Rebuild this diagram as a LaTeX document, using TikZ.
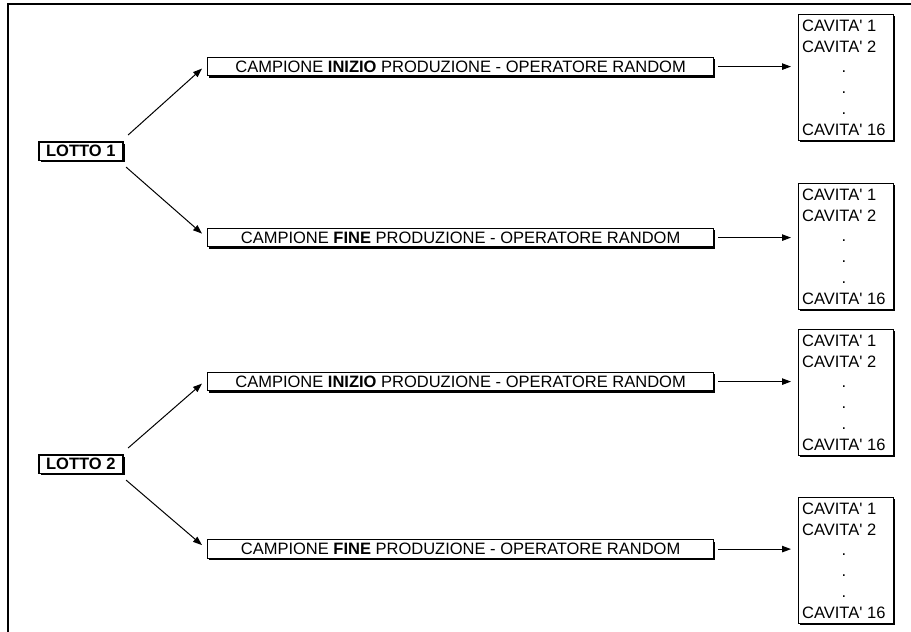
\documentclass[tikz,border=0pt]{standalone}
\usepackage{fontspec}
\setmainfont{Liberation Sans}[Ligatures=TeXOff]
\usetikzlibrary{arrows.meta,shadows,calc}

\newcommand\cavlist{%
  \begin{tabular}{@{}l@{}}
    CAVITA' 1\\
    CAVITA' 2\\
    \multicolumn{1}{@{}c@{}}{.}\\
    \multicolumn{1}{@{}c@{}}{.}\\
    \multicolumn{1}{@{}c@{}}{.}\\
    CAVITA' 16
  \end{tabular}}

\begin{document}
\begin{tikzpicture}[x=1pt,y=-1pt,
  font=\fontsize{16.5pt}{20.8pt}\selectfont,
  boxed/.style={draw, line width=1.2pt, fill=white, inner sep=0pt,
    anchor=north west,
    drop shadow={shadow xshift=1.8pt, shadow yshift=-1.8pt,
      fill=black, opacity=1}},
  lotto/.style={boxed, line width=1.6pt, minimum width=84pt,
    minimum height=18.5pt, font=\fontsize{16.5pt}{20.8pt}\selectfont\bfseries},
  campione/.style={boxed, minimum width=506pt, minimum height=18.5pt},
  cavbox/.style={boxed, minimum width=95pt, minimum height=126pt},
  cavtext/.style={anchor=north west, inner sep=0pt},
  arr/.style={line width=1pt, -{Triangle[length=9pt,width=6.5pt]}}]

\useasboundingbox (0,0) rectangle (911,632);

% page frame
\draw[line width=2pt, line join=miter] (8,632) -- (8,3.5) -- (911,3.5);

% lots
\node[lotto] (l1) at (38,141) {LOTTO 1};
\node[lotto] (l2) at (38,454) {LOTTO 2};

% samples
\node[campione] (c1) at (207,56.75)  {CAMPIONE \textbf{INIZIO} PRODUZIONE - OPERATORE RANDOM};
\node[campione] (c2) at (207,227.75) {CAMPIONE \textbf{FINE} PRODUZIONE - OPERATORE RANDOM};
\node[campione] (c3) at (207,371.75) {CAMPIONE \textbf{INIZIO} PRODUZIONE - OPERATORE RANDOM};
\node[campione] (c4) at (207,539.25) {CAMPIONE \textbf{FINE} PRODUZIONE - OPERATORE RANDOM};

% cavity lists
\foreach \k/\top in {1/14, 2/183, 3/329, 4/497} {
  \node[cavbox] (k\k) at (798,\top) {};
  \node[cavtext] (k\k t) at ($(k\k.north west)+(4,2.5)$) {\cavlist};
}

% lot -> sample
\draw[arr] ($(l1.north east)+(4.5,-6)$) -- ($(c1.west)+(-5,2)$);
\draw[arr] ($(l1.south east)+(2.5,6)$)  -- ($(c2.west)+(-5,-4)$);
\draw[arr] ($(l2.north east)+(4.5,-6)$) -- ($(c3.west)+(-5,2)$);
\draw[arr] ($(l2.south east)+(2.5,6)$)  -- ($(c4.west)+(-5,-4)$);

% sample -> cavities
\foreach \i in {1,...,4} {
  \draw[arr] ($(c\i.east)+(4,0)$) -- ($(c\i.east -| k\i.west)+(-7,0)$);
}
\end{tikzpicture}
\end{document}
